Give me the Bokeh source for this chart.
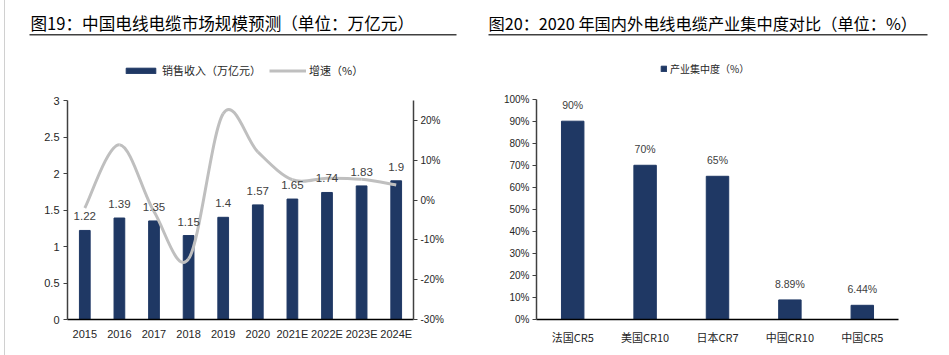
from bokeh.plotting import figure
from bokeh.layouts import row, column
from bokeh.models import (Range1d, LinearAxis, FixedTicker, PrintfTickFormatter, Label,
                          BoxAnnotation, Legend, LegendItem, FactorRange, Spacer)
from bokeh.core.properties import value
from bokeh.embed import file_html
from bokeh.resources import INLINE

# ---------------- data ----------------
years = ["2015", "2016", "2017", "2018", "2019", "2020", "2021E", "2022E", "2023E", "2024E"]
sales = [1.22, 1.39, 1.35, 1.15, 1.40, 1.57, 1.65, 1.74, 1.83, 1.90]
growth = [-2.0, 13.9, -2.9, -14.8, 21.7, 12.1, 5.1, 5.5, 5.2, 3.8]
left_ticks = [0, 0.5, 1, 1.5, 2, 2.5, 3]
left_tick_labels = ["0", "0.5", "1", "1.5", "2", "2.5", "3"]
growth_ticks = [-30, -20, -10, 0, 10, 20]

regions = ["法国CR5", "美国CR10", "日本CR7", "中国CR10", "中国CR5"]
conc = [90, 70, 65, 8.89, 6.44]
conc_labels = ["90%", "70%", "65%", "8.89%", "6.44%"]
pct_ticks = [0, 10, 20, 30, 40, 50, 60, 70, 80, 90, 100]

title1 = "图19：中国电线电缆市场规模预测（单位：万亿元）"
title2 = "图20：2020 年国内外电线电缆产业集中度对比（单位：%）"
legend1 = ["销售收入（万亿元）", "增速（%）"]
legend2 = "产业集中度（%）"

# ---------------- style ----------------
NAVY = "#1F3864"
GRAY = "#BFBFBF"
TXT = "#262626"
CJK = "Noto Sans CJK SC"
LAT = "Liberation Sans, Noto Sans CJK SC"
HEAD_H = 48
CH_H = 355 - HEAD_H


def style_axis(ax, size="11px"):
    ax.major_label_text_font = LAT
    ax.major_label_text_font_size = size
    ax.major_label_text_color = TXT
    ax.minor_tick_line_color = None


# ================= header (titles + rules) =================
hd = figure(width=944, height=HEAD_H, x_range=Range1d(5, 949), y_range=Range1d(HEAD_H, 0),
            output_backend="svg", toolbar_location=None, x_axis_location=None,
            y_axis_location=None, min_border=0)
hd.outline_line_color = None
hd.xgrid.visible = False
hd.ygrid.visible = False
for tx, ux0, ux1, tt, fs in [(30, 29, 456, title1, "16.6px"), (488, 488, 927, title2, "16.2px")]:
    hd.add_layout(Label(x=tx, y=22, text=tt, text_font=CJK, text_font_size=fs,
                        text_color="#000000", text_baseline="middle"))
    hd.add_layout(BoxAnnotation(left=ux0, right=ux1, top=33.5, bottom=35,
                                fill_color="#404040", fill_alpha=1, line_color=None))

# ================= left chart =================
TOP1 = 7
frame_h1 = CH_H - TOP1 - 36
p1 = figure(width=470, height=CH_H, x_range=Range1d(-0.5, 9.5),
            y_range=Range1d(0, 3 * frame_h1 / 219.0),
            output_backend="svg", toolbar_location=None,
            min_border_left=62, min_border_right=62, min_border_top=TOP1, min_border_bottom=36)
p1.extra_y_ranges = {"g": Range1d(-30, -30 + 55 * frame_h1 / 219.0)}
p1.outline_line_color = None
p1.xgrid.visible = False
p1.ygrid.visible = False

idx = list(range(len(years)))
bars = p1.vbar(x=idx, top=sales, width=0.31, fill_color=NAVY, line_color=NAVY)

# smoothed growth line (cubic Bezier through the data points)
n = len(growth)
x0, y0, x1, y1, cx0, cy0, cx1, cy1 = [], [], [], [], [], [], [], []
for i in range(n - 1):
    pa = i - 1 if i > 0 else i
    pd = i + 2 if i + 2 < n else i + 1
    x0.append(idx[i]); y0.append(growth[i])
    x1.append(idx[i + 1]); y1.append(growth[i + 1])
    cx0.append(idx[i] + (idx[i + 1] - idx[pa]) / 6.0)
    cy0.append(growth[i] + (growth[i + 1] - growth[pa]) / 6.0)
    cx1.append(idx[i + 1] - (idx[pd] - idx[i]) / 6.0)
    cy1.append(growth[i + 1] - (growth[pd] - growth[i]) / 6.0)
curve = p1.bezier(x0=x0, y0=y0, x1=x1, y1=y1, cx0=cx0, cy0=cy0, cx1=cx1, cy1=cy1,
                  line_color=GRAY, line_width=3, y_range_name="g")

p1.text(x=idx, y=sales, text=[f"{v:g}" for v in sales], text_align="center",
        text_baseline="bottom", y_offset=-10, text_font_size="11.5px", text_color="#404040",
        text_font=value(LAT))

xa = p1.xaxis[0]
xa.ticker = FixedTicker(ticks=idx)
xa.major_label_overrides = {i: y for i, y in zip(idx, years)}
xa.major_tick_line_color = None
xa.axis_line_color = "#000000"
xa.axis_line_width = 1.5
xa.major_label_standoff = 2
style_axis(xa)

ya = p1.yaxis[0]
ya.ticker = FixedTicker(ticks=left_ticks)
ya.major_label_overrides = {t: l for t, l in zip(left_ticks, left_tick_labels)}
ya.bounds = (0, 3)
ya.axis_line_color = "#404040"
ya.axis_line_width = 1.5
ya.major_tick_line_color = "#404040"
ya.major_tick_in = 0
ya.major_tick_out = 4
ya.major_label_standoff = 4
style_axis(ya)

ra = LinearAxis(y_range_name="g", ticker=FixedTicker(ticks=growth_ticks),
                formatter=PrintfTickFormatter(format="%d%%"), bounds=(-30, 25))
ra.axis_line_color = "#404040"
ra.axis_line_width = 1.5
ra.major_tick_line_color = "#404040"
ra.major_tick_in = 0
ra.major_tick_out = 4
ra.major_label_standoff = 3
style_axis(ra, "10px")
p1.add_layout(ra, "right")

lg1 = Legend(items=[LegendItem(label=legend1[0], renderers=[bars]),
                    LegendItem(label=legend1[1], renderers=[curve])],
             orientation="horizontal", location=(55, 241),
             glyph_width=37, glyph_height=7, label_height=12, label_standoff=3, spacing=8,
             padding=0, margin=0, border_line_color=None, background_fill_alpha=0,
             label_text_font=CJK, label_text_font_size="11px", label_text_color=TXT)
p1.add_layout(lg1, "center")

# ================= right chart =================
TOP2 = 7
frame_h2 = CH_H - TOP2 - 34
p2 = figure(width=474, height=CH_H, x_range=FactorRange(*regions),
            y_range=Range1d(0, 100 * frame_h2 / 222.0),
            output_backend="svg", toolbar_location=None,
            min_border_left=61, min_border_right=51, min_border_top=TOP2, min_border_bottom=34)
p2.outline_line_color = None
p2.xgrid.visible = False
p2.ygrid.visible = False

bars2 = p2.vbar(x=regions, top=conc, width=0.31, fill_color=NAVY, line_color=NAVY)
p2.text(x=regions, y=conc, text=conc_labels, text_align="center", text_baseline="bottom",
        y_offset=-10, text_font_size="10.5px", text_color="#404040", text_font=value(LAT))

xb = p2.xaxis[0]
xb.major_tick_line_color = None
xb.axis_line_color = "#000000"
xb.axis_line_width = 1.5
xb.major_label_standoff = 3
style_axis(xb)
xb.major_label_text_font = CJK

yb = p2.yaxis[0]
yb.ticker = FixedTicker(ticks=pct_ticks)
yb.formatter = PrintfTickFormatter(format="%d%%")
yb.bounds = (0, 100)
yb.axis_line_color = "#404040"
yb.axis_line_width = 1.5
yb.major_tick_line_color = "#404040"
yb.major_tick_in = 0
yb.major_tick_out = 4
yb.major_label_standoff = 3
style_axis(yb, "10px")

lg2 = Legend(items=[LegendItem(label=legend2, renderers=[bars2])],
             orientation="horizontal", location=(124, 243),
             glyph_width=7, glyph_height=7, label_height=12, label_standoff=3,
             padding=0, margin=0, border_line_color=None, background_fill_alpha=0,
             label_text_font=CJK, label_text_font_size="10px", label_text_color=TXT)
p2.add_layout(lg2, "center")

edge = Spacer(width=1, height=355, styles={"background-color": "#D0D0D0"})
layout = row(Spacer(width=4, height=355), edge,
             column(hd, row(p1, p2, spacing=0), spacing=0), spacing=0)
open("out.html", "w").write(file_html(layout, INLINE))
